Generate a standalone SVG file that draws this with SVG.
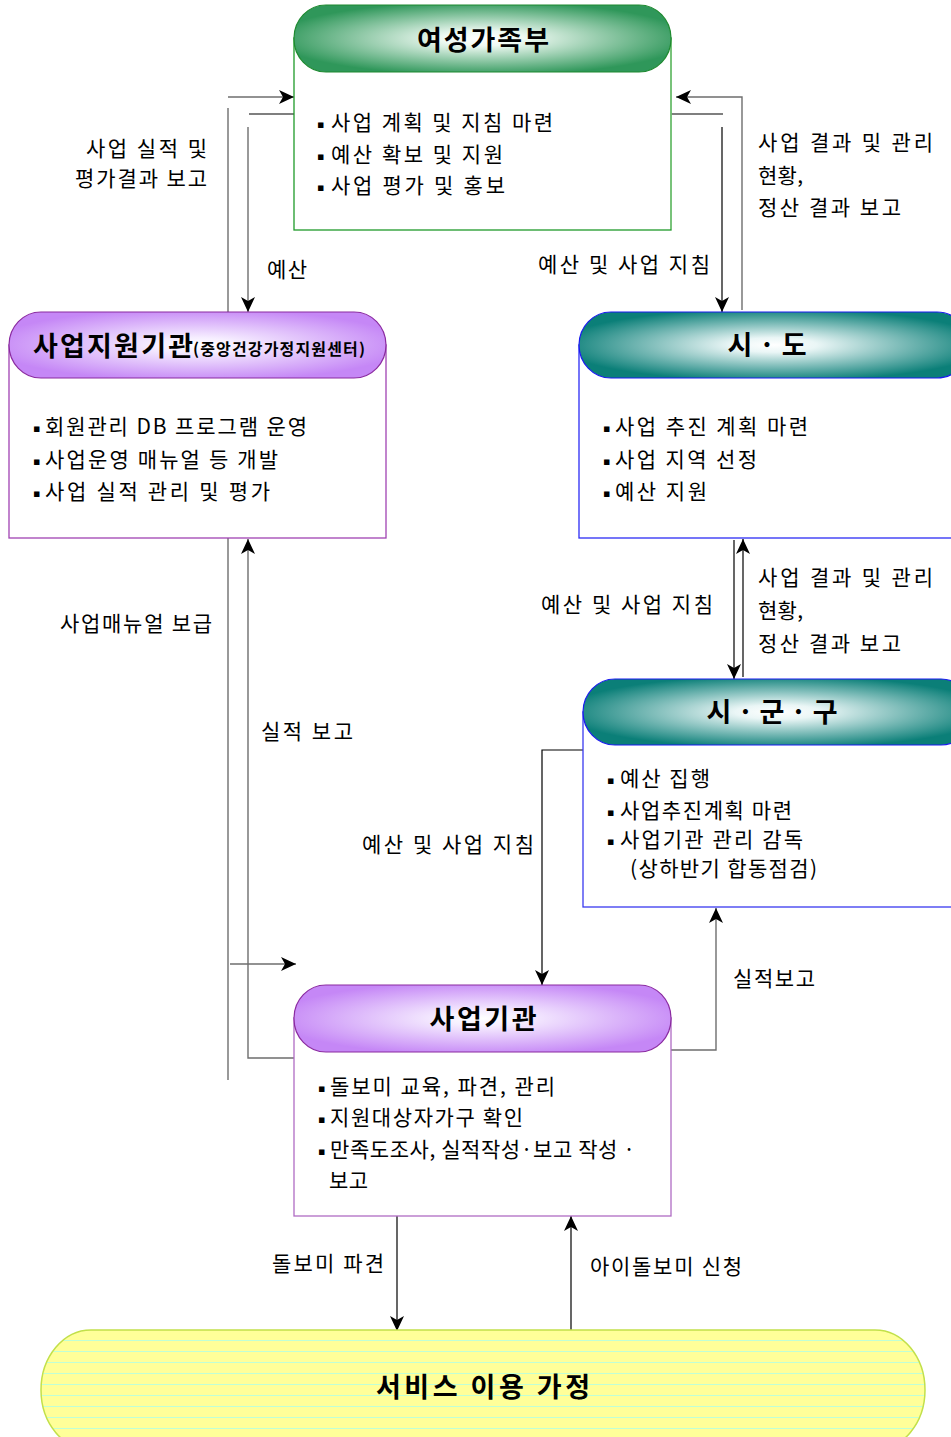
<svg xmlns="http://www.w3.org/2000/svg" width="951" height="1437" viewBox="0 0 951 1437">
<defs>
<style>
text{font-family:"Noto Sans CJK KR","Noto Sans",sans-serif;fill:#000}
.lbl{font-size:21px}
.bul{font-size:21px}
.dot{font-size:11px;font-family:"DejaVu Sans",sans-serif}
.ttl{font-size:27px;font-weight:700;text-anchor:middle}
.g{stroke:#6e6e6e;stroke-width:1.4;fill:none}
.k{stroke:#000;stroke-width:1.2;fill:none}
</style>
<marker id="ah" markerUnits="userSpaceOnUse" markerWidth="16" markerHeight="14" refX="15" refY="7" orient="auto">
<path d="M0,0 L15,7 L0,14 L4,7 Z" fill="#000"/>
</marker>
<radialGradient id="gGreen" cx="50%" cy="50%" r="55%">
<stop offset="0" stop-color="#ffffff"/>
<stop offset="0.2" stop-color="#eef9f2"/>
<stop offset="1" stop-color="#2f975a"/>
</radialGradient>
<radialGradient id="gTeal" cx="50%" cy="50%" r="55%">
<stop offset="0" stop-color="#ffffff"/>
<stop offset="0.2" stop-color="#eaf6f6"/>
<stop offset="1" stop-color="#0b7f78"/>
</radialGradient>
<radialGradient id="gPurple" cx="50%" cy="50%" r="55%">
<stop offset="0" stop-color="#ffffff"/>
<stop offset="0.2" stop-color="#f6eeff"/>
<stop offset="1" stop-color="#c587f6"/>
</radialGradient>
<pattern id="stripes" patternUnits="userSpaceOnUse" x="0" y="1330" width="20" height="11">
<rect width="20" height="11" fill="#ffff99"/>
<rect y="10" width="20" height="1.2" fill="#bfffd6"/>
</pattern>
</defs>
<rect width="951" height="1437" fill="#fff"/>

<g id="connectors">
<line class="g" x1="228" y1="97" x2="294" y2="97" marker-end="url(#ah)"/>
<line class="g" x1="228" y1="108" x2="228" y2="1080"/>
<line class="g" x1="230" y1="964" x2="296" y2="964" marker-end="url(#ah)"/>
<line class="k" x1="249" y1="114" x2="294" y2="114"/>
<line class="g" x1="248" y1="127" x2="248" y2="312" marker-end="url(#ah)"/>
<polyline class="g" points="294,1058 248,1058 248,539" marker-end="url(#ah)"/>
<polyline class="g" points="742,310 742,97 676,97" marker-end="url(#ah)"/>
<line class="k" x1="670" y1="114" x2="723" y2="114"/>
<line class="k" x1="722" y1="127" x2="722" y2="312" marker-end="url(#ah)"/>
<line class="k" x1="734" y1="540" x2="734" y2="679" marker-end="url(#ah)"/>
<line class="k" x1="743" y1="677" x2="743" y2="539" marker-end="url(#ah)"/>
<polyline class="k" points="583,750 542,750 542,985" marker-end="url(#ah)"/>
<polyline class="g" points="671,1050 716,1050 716,908" marker-end="url(#ah)"/>
<line class="k" x1="397" y1="1216" x2="397" y2="1331" marker-end="url(#ah)"/>
<line class="k" x1="571" y1="1331" x2="571" y2="1216" marker-end="url(#ah)"/>
</g>

<g id="node-mogef">
<rect x="294" y="38" width="377" height="192" fill="#fff" stroke="#1f9a2a" stroke-width="1.3"/>
<line x1="671" y1="40" x2="671" y2="229" stroke="#7cc47c" stroke-width="1.6"/>
<rect x="294" y="5" width="377" height="67" rx="32" ry="33" fill="url(#gGreen)" stroke="#1e8a30" stroke-width="1.2"/>
<text class="ttl" x="483" y="50" textLength="132" lengthAdjust="spacing">여성가족부</text>
<text class="dot" x="317" y="128">▪</text>
<text class="dot" x="317" y="160">▪</text>
<text class="dot" x="317" y="191">▪</text>
<text class="bul" x="331" y="130" textLength="222" lengthAdjust="spacing">사업 계획 및 지침 마련</text>
<text class="bul" x="331" y="162" textLength="172" lengthAdjust="spacing">예산 확보 및 지원</text>
<text class="bul" x="331" y="193" textLength="174" lengthAdjust="spacing">사업 평가 및 홍보</text>
</g>

<g id="node-support">
<rect x="9" y="345" width="377" height="193" fill="#fff" stroke="#a043b3" stroke-width="1.3"/>
<rect x="9" y="312" width="377" height="66" rx="32" ry="33" fill="url(#gPurple)" stroke="#8a2aa0" stroke-width="1.2"/>
<text x="33" y="356" style="font-weight:700;font-size:27px" textLength="160" lengthAdjust="spacing">사업지원기관</text>
<text x="193" y="355" style="font-weight:700;font-size:16px" textLength="172" lengthAdjust="spacing">(중앙건강가정지원센터)</text>
<text class="dot" x="33" y="432">▪</text>
<text class="dot" x="33" y="465">▪</text>
<text class="dot" x="33" y="497">▪</text>
<text class="bul" x="45" y="434" textLength="262" lengthAdjust="spacing">회원관리 DB 프로그램 운영</text>
<text class="bul" x="45" y="467" textLength="233" lengthAdjust="spacing">사업운영 매뉴얼 등 개발</text>
<text class="bul" x="45" y="499" textLength="225" lengthAdjust="spacing">사업 실적 관리 및 평가</text>
</g>

<g id="node-sido">
<rect x="579" y="345" width="390" height="193" fill="#fff" stroke="#2b2bf5" stroke-width="1.3"/>
<rect x="579" y="312" width="390" height="66" rx="32" ry="33" fill="url(#gTeal)" stroke="#1a1af0" stroke-width="1.2"/>
<text class="ttl" x="767" y="355" textLength="79" lengthAdjust="spacing">시 · 도</text>
<text class="dot" x="603" y="432">▪</text>
<text class="dot" x="603" y="465">▪</text>
<text class="dot" x="603" y="497">▪</text>
<text class="bul" x="615" y="434" textLength="193" lengthAdjust="spacing">사업 추진 계획 마련</text>
<text class="bul" x="615" y="467" textLength="142" lengthAdjust="spacing">사업 지역 선정</text>
<text class="bul" x="615" y="499" textLength="92" lengthAdjust="spacing">예산 지원</text>
</g>

<g id="node-sigungu">
<rect x="583" y="712" width="390" height="195" fill="#fff" stroke="#3a3af0" stroke-width="1.3"/>
<rect x="583" y="679" width="390" height="66" rx="32" ry="33" fill="url(#gTeal)" stroke="#1a1af0" stroke-width="1.2"/>
<text class="ttl" x="772" y="722" textLength="131" lengthAdjust="spacing">시 · 군 · 구</text>
<text class="dot" x="607" y="784">▪</text>
<text class="dot" x="607" y="816">▪</text>
<text class="dot" x="607" y="845">▪</text>
<text class="bul" x="620" y="786" textLength="90" lengthAdjust="spacing">예산 집행</text>
<text class="bul" x="620" y="818" textLength="172" lengthAdjust="spacing">사업추진계획 마련</text>
<text class="bul" x="620" y="847" textLength="183" lengthAdjust="spacing">사업기관 관리 감독</text>
<text class="bul" x="630" y="876" textLength="187" lengthAdjust="spacing">(상하반기 합동점검)</text>
</g>

<g id="node-agency">
<rect x="294" y="1018" width="377" height="198" fill="#fff" stroke="#b06cc4" stroke-width="1.3"/>
<rect x="294" y="985" width="377" height="67" rx="32" ry="33" fill="url(#gPurple)" stroke="#8a2aa0" stroke-width="1.2"/>
<text class="ttl" x="483" y="1029" textLength="107" lengthAdjust="spacing">사업기관</text>
<text class="dot" x="318" y="1092">▪</text>
<text class="dot" x="318" y="1123">▪</text>
<text class="dot" x="318" y="1155">▪</text>
<text class="bul" x="330" y="1094" textLength="225" lengthAdjust="spacing">돌보미 교육, 파견, 관리</text>
<text class="bul" x="330" y="1125" textLength="193" lengthAdjust="spacing">지원대상자가구 확인</text>
<text class="bul" x="330" y="1157" textLength="305" lengthAdjust="spacing">만족도조사, 실적작성·보고 작성 ·</text>
<text class="bul" x="329" y="1188" textLength="39" lengthAdjust="spacing">보고</text>
</g>

<g id="node-family">
<rect x="41" y="1330" width="884" height="120" rx="50" ry="60" fill="url(#stripes)" stroke="#c2e04a" stroke-width="1.5"/>
<text class="ttl" x="483" y="1397" textLength="214" lengthAdjust="spacing">서비스 이용 가정</text>
</g>

<g id="labels">
<text class="lbl" x="207" y="156" text-anchor="end" textLength="121" lengthAdjust="spacing">사업 실적 및</text>
<text class="lbl" x="207" y="186" text-anchor="end" textLength="132" lengthAdjust="spacing">평가결과 보고</text>
<text class="lbl" x="267" y="277" textLength="40" lengthAdjust="spacing">예산</text>
<text class="lbl" x="538" y="272" textLength="172" lengthAdjust="spacing">예산 및 사업 지침</text>
<text class="lbl" x="758" y="150" textLength="175" lengthAdjust="spacing">사업 결과 및 관리</text>
<text class="lbl" x="758" y="183" textLength="45" lengthAdjust="spacing">현황,</text>
<text class="lbl" x="758" y="215" textLength="143" lengthAdjust="spacing">정산 결과 보고</text>
<text class="lbl" x="60" y="631" textLength="152" lengthAdjust="spacing">사업매뉴얼 보급</text>
<text class="lbl" x="261" y="739" textLength="92" lengthAdjust="spacing">실적 보고</text>
<text class="lbl" x="541" y="612" textLength="172" lengthAdjust="spacing">예산 및 사업 지침</text>
<text class="lbl" x="758" y="585" textLength="175" lengthAdjust="spacing">사업 결과 및 관리</text>
<text class="lbl" x="758" y="618" textLength="45" lengthAdjust="spacing">현황,</text>
<text class="lbl" x="758" y="651" textLength="143" lengthAdjust="spacing">정산 결과 보고</text>
<text class="lbl" x="362" y="852" textLength="172" lengthAdjust="spacing">예산 및 사업 지침</text>
<text class="lbl" x="733" y="986" textLength="82" lengthAdjust="spacing">실적보고</text>
<text class="lbl" x="272" y="1271" textLength="112" lengthAdjust="spacing">돌보미 파견</text>
<text class="lbl" x="590" y="1274" textLength="152" lengthAdjust="spacing">아이돌보미 신청</text>
</g>
</svg>
